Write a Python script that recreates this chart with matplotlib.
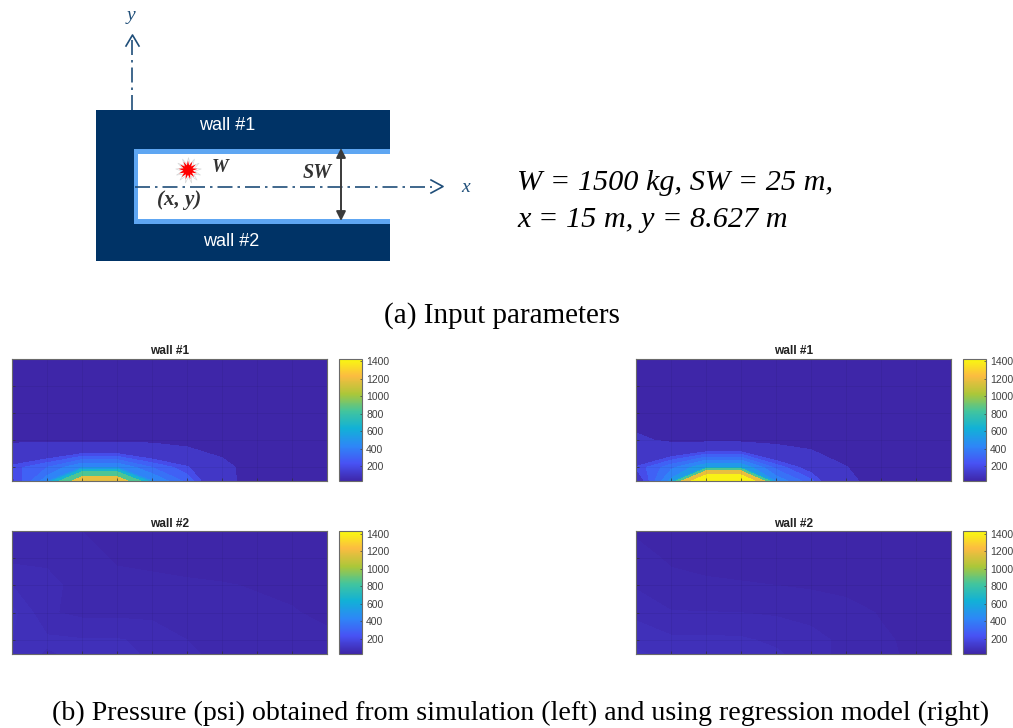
import numpy as np
import matplotlib
matplotlib.use("Agg")
import matplotlib.pyplot as plt
from matplotlib.colors import LinearSegmentedColormap, Normalize
from matplotlib.cm import ScalarMappable
from matplotlib.patches import Rectangle

W, H = 1013, 728

# grid of the contour data, rows go bottom to top
X_NODES = [0, 1, 2, 3, 4, 5, 6, 7, 8, 9]
Y_NODES = [0, 0.5, 1.5, 2.5, 3.5, 4.5]

SIM_WALL1 = [
    [310, 530, 1190, 1200, 560, 410, 210, 40, 38, 38],
    [350, 430, 560, 560, 430, 340, 190, 60, 40, 38],
    [115, 110, 105, 105, 105, 75, 50, 42, 40, 38],
    [40, 40, 40, 40, 40, 40, 40, 40, 40, 38],
    [40, 40, 40, 40, 40, 40, 40, 40, 40, 38],
    [40, 40, 40, 40, 40, 40, 40, 40, 40, 38],
]
REG_WALL1 = [
    [250, 580, 1400, 1400, 540, 390, 180, 70, 45, 40],
    [335, 470, 630, 630, 410, 290, 145, 50, 42, 38],
    [170, 112, 105, 105, 90, 60, 50, 42, 40, 38],
    [60, 42, 42, 42, 40, 40, 40, 40, 40, 38],
    [40, 40, 40, 40, 40, 40, 40, 40, 40, 38],
    [40, 40, 40, 40, 40, 40, 40, 40, 40, 38],
]
SIM_WALL2 = [
    [85, 73, 80, 80, 72, 63, 55, 50, 49, 48],
    [90, 78, 76, 76, 72, 60, 54, 50, 49, 48],
    [95, 62, 56, 56, 55, 52, 50, 48, 46, 42],
    [75, 68, 50, 50, 49, 47, 46, 44, 42, 38],
    [56, 55, 52, 43, 41, 40, 38, 38, 38, 38],
    [52, 50, 45, 40, 38, 38, 38, 38, 38, 38],
]
REG_WALL2 = [
    [96, 79, 82, 82, 77, 68, 54, 46, 44, 41],
    [82, 78, 78, 77, 72, 65, 56, 47, 42, 40],
    [72, 61, 60.5, 60, 58, 55, 50, 44, 41, 40],
    [58, 49, 47, 46, 45, 43, 41, 40, 39, 38],
    [50, 43, 41, 40, 39, 38, 38, 38, 38, 38],
    [43, 41, 38, 38, 38, 38, 38, 38, 38, 38],
]

# contour levels and the colorbar value each band is painted with
LEVELS_SIM1 = [30, 140, 330, 375, 430, 490, 560, 640, 765, 1000, 1430]
BANDS_SIM1 = [30, 110, 200, 290, 350, 420, 520, 650, 850, 1180]
LEVELS_REG1 = [30, 140, 330, 375, 430, 490, 560, 640, 700, 830, 1060, 1430]
BANDS_REG1 = [30, 110, 200, 290, 350, 420, 520, 650, 850, 1180, 1400]
LEVELS_WALL2 = [30, 45, 60, 75, 90, 110, 1430]
BANDS_WALL2 = [30, 45, 60, 75, 90, 110]
CBAR_TICKS = [200, 400, 600, 800, 1000, 1200, 1400]

parula = LinearSegmentedColormap.from_list("parula", [
    (0.0, (0.2422, 0.1504, 0.6603)),
    (0.143, (0.2810, 0.3228, 0.9579)),
    (0.286, (0.1786, 0.5289, 0.9682)),
    (0.43, (0.0689, 0.6948, 0.8394)),
    (0.57, (0.2586, 0.7703, 0.6191)),
    (0.71, (0.6720, 0.7793, 0.2227)),
    (0.86, (0.9856, 0.7372, 0.2537)),
    (1.0, (0.9763, 0.9831, 0.0538)),
])
norm = Normalize(30, 1430)

plt.rcParams["font.family"] = ["Liberation Sans", "DejaVu Sans"]
fig = plt.figure(figsize=(W / 100, H / 100), dpi=100)


def px_axes(x0, y0, x1, y1):
    return fig.add_axes([x0 / W, 1 - y1 / H, (x1 - x0) / W, (y1 - y0) / H])


def wall_panel(x0, y0, y1, data, levels, bands, title):
    ax = px_axes(x0, y0, x0 + 315, y1)
    band_colors = [parula(norm(v)) for v in bands]
    ax.contourf(X_NODES, Y_NODES, np.array(data), levels=levels, colors=band_colors)
    ax.set_xticks(X_NODES[1:-1])
    ax.set_yticks(Y_NODES[1:-1])
    ax.set_xticklabels([])
    ax.set_yticklabels([])
    ax.tick_params(direction="in", length=2, width=0.5, color="#333333")
    ax.grid(color="black", alpha=0.06, lw=0.6)
    for s in ax.spines.values():
        s.set_color("#6a6a6a")
        s.set_linewidth(0.8)
    ax.set_title(title, fontsize=8.6, fontweight="bold", color="#222222", pad=3)

    cax = px_axes(x0 + 327, y0, x0 + 350, y1)
    cb = fig.colorbar(ScalarMappable(norm=norm, cmap=parula), cax=cax)
    cb.set_ticks(CBAR_TICKS)
    cb.ax.tick_params(labelsize=7.5, length=1.5, width=0.5, pad=3, direction="in",
                      labelcolor="#404040", color="#404040")
    cb.outline.set_edgecolor("#6a6a6a")
    cb.outline.set_linewidth(0.8)


wall_panel(12, 358.5, 481, SIM_WALL1, LEVELS_SIM1, BANDS_SIM1, "wall #1")
wall_panel(636, 358.5, 481, REG_WALL1, LEVELS_REG1, BANDS_REG1, "wall #1")
wall_panel(12, 531, 653.5, SIM_WALL2, LEVELS_WALL2, BANDS_WALL2, "wall #2")
wall_panel(636, 531, 653.5, REG_WALL2, LEVELS_WALL2, BANDS_WALL2, "wall #2")

# overlay in pixel coordinates for the schematic and captions
ov = fig.add_axes([0, 0, 1, 1])
ov.set_xlim(0, W)
ov.set_ylim(H, 0)
ov.axis("off")
ov.patch.set_alpha(0)

NAVY = "#003366"
LIGHT = "#5ea6f2"
AXIS = "#1f4e79"
ov.add_patch(Rectangle((96, 110), 294, 151, fc=NAVY, ec="none"))
ov.add_patch(Rectangle((134, 148.5), 256, 75, fc=LIGHT, ec="none"))
ov.add_patch(Rectangle((138, 153.5), 252, 65.5, fc="white", ec="none"))

ov.plot([132, 132], [110, 38], color=AXIS, lw=1.2, dashes=(9, 3, 1.5, 3))
ov.plot([135, 432], [186.5, 186.5], color=AXIS, lw=1.2, dashes=(9, 3, 1.5, 3))
ov.plot([126, 132.5, 139], [46, 35, 46], color=AXIS, lw=1.2)
ov.plot([431, 443, 431], [180, 186.5, 193], color=AXIS, lw=1.2)
ov.annotate("", xy=(341, 148), xytext=(341, 221),
            arrowprops=dict(arrowstyle="<|-|>", color="#3a3a3a", lw=1.4, mutation_scale=14,
                            shrinkA=0, shrinkB=0))
ov.scatter([188], [170], marker=(13, 1, 0), s=340, color="white", edgecolor="#d8d8d8", lw=0.5, zorder=3)
ov.scatter([188], [170], marker=(13, 1, 0), s=190, color="#ff0000", edgecolor="none", zorder=4)

ov.text(227, 126, "wall #1", color="white", fontsize=13, ha="center", va="center")
ov.text(231, 241, "wall #2", color="white", fontsize=13, ha="center", va="center")

SERIF = ["Liberation Serif", "DejaVu Serif"]
ov.text(131, 16, "y", color=AXIS, fontsize=14, style="italic", family=SERIF, ha="center", va="center")
ov.text(466, 187, "x", color=AXIS, fontsize=14, style="italic", family=SERIF, ha="center", va="center")
ov.text(220, 168, "W", color="#333333", fontsize=13.5, style="italic", weight="bold", family=SERIF, ha="center", va="center")
ov.text(317, 173, "SW", color="#333333", fontsize=14.5, style="italic", weight="bold", family=SERIF, ha="center", va="center")
ov.text(179, 200, "(x, y)", color="#333333", fontsize=15, style="italic", weight="bold", family=SERIF, ha="center", va="center")

ov.text(517, 190, "W = 1500 kg, SW = 25 m,", fontsize=21.8, style="italic", family=SERIF, color="black", ha="left", va="baseline")
ov.text(517, 227, "x = 15 m, y = 8.627 m", fontsize=21.8, style="italic", family=SERIF, color="black", ha="left", va="baseline")

ov.text(502, 316, "(a) Input parameters", fontsize=21, family=SERIF, color="black", ha="center", va="center")
ov.text(521, 713, "(b) Pressure (psi) obtained from simulation (left) and using regression model (right)",
        fontsize=20.1, family=SERIF, color="black", ha="center", va="center")

fig.savefig("out.png", dpi=100)
